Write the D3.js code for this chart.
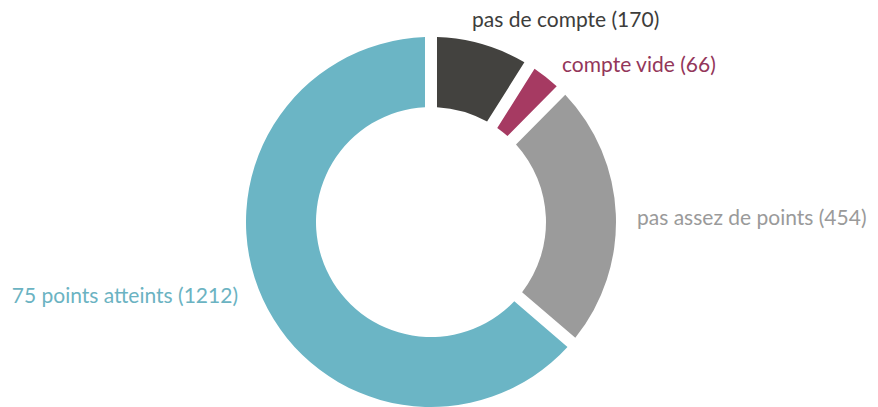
<!DOCTYPE html>
<html>
<head>
<meta charset="utf-8">
<script src="https://cdn.jsdelivr.net/npm/d3@7"></script>
<style>
  body { margin: 0; background: #fff; }
  text { font-family: Lato, "Noto Sans", sans-serif; }
</style>
</head>
<body>
<div id="main-container"></div>
<script>
var categories = ["pas de compte", "compte vide", "pas assez de points", "75 points atteints"];
var values = [170, 66, 454, 1212];
var colors = ["#43423f", "#a63a62", "#9b9b9b", "#6bb5c5"];
var labelColors = ["#3d3d3b", "#93365a", "#9a9a9a", "#6bb3c2"];

var width = 878, height = 407;
var cx = 431, cy = 222;
var outerR = 185, innerR = 115;

// where each label sits: [x, y, anchor]
var labelPos = [
    [472, 27, "start"],
    [562, 72, "start"],
    [637, 225, "start"],
    [238, 303, "end"]
];

var svg = d3.select("#main-container")
            .append("svg")
            .attr("width", width)
            .attr("height", height);

var pie = d3.pie().sort(null).value(function(d) { return d; });
var arc = d3.arc()
            .innerRadius(innerR)
            .outerRadius(outerR)
            .padAngle(12 / Math.sqrt(innerR * innerR + outerR * outerR));

var g = svg.append("g").attr("transform", "translate(" + cx + "," + cy + ")");

g.selectAll("path")
    .data(pie(values))
    .enter()
    .append("path")
    .attr("d", arc)
    .attr("fill", function(d, i) { return colors[i]; });

svg.selectAll("text.label")
    .data(categories)
    .enter()
    .append("text")
    .attr("class", "label")
    .text(function(d, i) { return d + " (" + values[i] + ")"; })
    .attr("x", function(d, i) { return labelPos[i][0]; })
    .attr("y", function(d, i) { return labelPos[i][1]; })
    .attr("text-anchor", function(d, i) { return labelPos[i][2]; })
    .attr("font-size", "21px")
    .attr("fill", function(d, i) { return labelColors[i]; });
</script>
</body>
</html>
